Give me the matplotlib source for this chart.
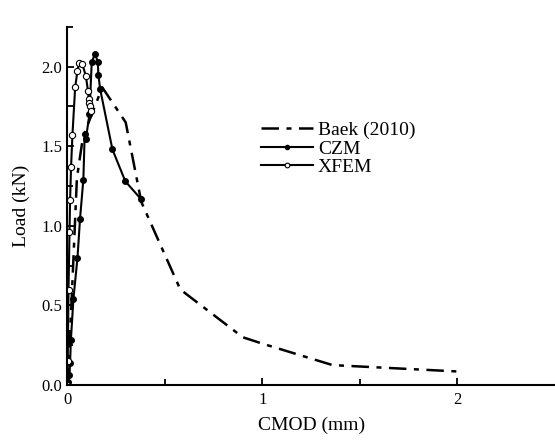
import matplotlib.pyplot as plt
from matplotlib.ticker import MultipleLocator, FixedLocator

plt.rcParams['font.family'] = ['Liberation Serif', 'DejaVu Serif']

# Baek (2010) experiment
baek_x = [0.0, 0.02, 0.05, 0.08, 0.11, 0.18, 0.30, 0.38, 0.58, 0.90, 1.00, 1.36, 2.00]
baek_y = [0.0, 0.45, 1.30, 1.55, 1.65, 1.87, 1.65, 1.15, 0.60, 0.30, 0.26, 0.125, 0.085]

# CZM simulation
czm_x = [0.0, 0.005, 0.012, 0.015, 0.019, 0.032, 0.053, 0.066, 0.083, 0.090, 0.096,
         0.114, 0.126, 0.143, 0.157, 0.160, 0.169, 0.232, 0.298, 0.377]
czm_y = [0.0, 0.02, 0.06, 0.14, 0.28, 0.54, 0.80, 1.045, 1.29, 1.58, 1.545,
         1.70, 2.03, 2.08, 2.03, 1.95, 1.86, 1.48, 1.28, 1.17]

# XFEM simulation
xfem_x = [0.0, 0.003, 0.007, 0.012, 0.015, 0.020, 0.027, 0.041, 0.053, 0.061, 0.077,
          0.096, 0.107, 0.110, 0.114, 0.118, 0.121]
xfem_y = [0.0, 0.15, 0.60, 0.96, 1.16, 1.37, 1.57, 1.87, 1.975, 2.025, 2.02,
          1.94, 1.845, 1.80, 1.77, 1.75, 1.72]

fig = plt.figure(figsize=(5.55, 4.41), dpi=100)
ax = fig.add_axes([0.121, 0.127, 0.879, 0.812])

ax.plot(baek_x, baek_y, color='black', lw=1.8, ls=(0, (7, 3, 2, 3)), label='Baek (2010)')
ax.plot(czm_x, czm_y, color='black', lw=1.5, marker='o', ms=4, mfc='black',
        label='CZM')
ax.plot(xfem_x, xfem_y, color='black', lw=1.5, marker='o', ms=4.5, mfc='white',
        mew=0.8, label='XFEM')

ax.set_xlim(0, 2.5)
ax.set_ylim(0, 2.25)
ax.xaxis.set_major_locator(FixedLocator([0, 1, 2]))
ax.xaxis.set_minor_locator(FixedLocator([0.5, 1.5]))
ax.yaxis.set_major_locator(MultipleLocator(0.5))
ax.yaxis.set_minor_locator(MultipleLocator(0.25))
ax.yaxis.set_major_formatter(plt.FormatStrFormatter('%.1f'))

for s in ['top', 'right']:
    ax.spines[s].set_visible(False)
for s in ['left', 'bottom']:
    ax.spines[s].set_linewidth(1.5)

ax.tick_params(which='both', direction='in', width=1.3, labelsize=12)
ax.tick_params(which='major', length=5)
ax.tick_params(which='minor', length=4)
ax.tick_params(axis='x', pad=5)

ax.set_xlabel('CMOD (mm)', fontsize=14, labelpad=6)
ax.set_ylabel('Load (kN)', fontsize=14, labelpad=8)

ax.legend(loc='upper left', bbox_to_anchor=(0.452, 0.747), bbox_transform=fig.transFigure,
          frameon=False, fontsize=14, handlelength=2.7, handletextpad=0.25,
          labelspacing=0.05, borderpad=0, markerscale=0.75)

fig.savefig('out.png', dpi=100)
